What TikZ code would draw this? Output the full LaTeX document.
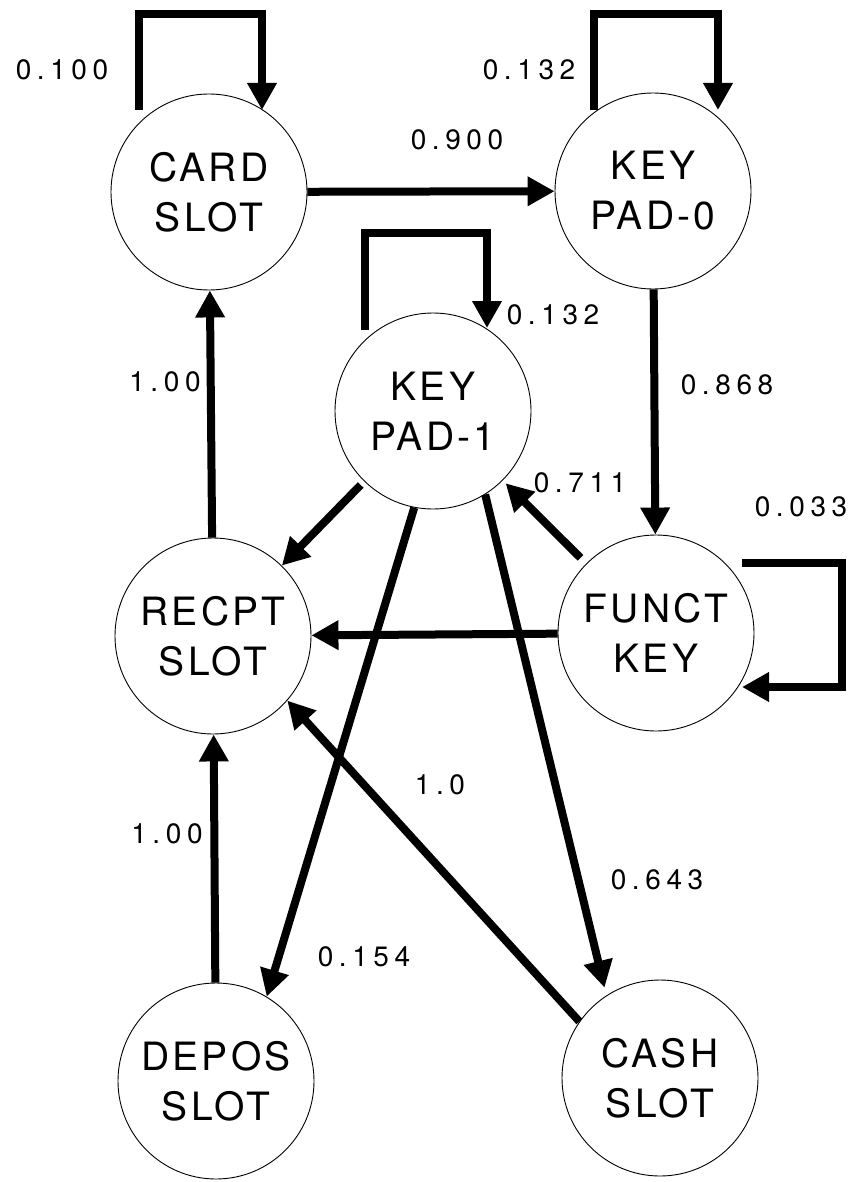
\documentclass[tikz,border=0pt]{standalone}
\usepackage{fontspec}
\setmainfont{TeX Gyre Heros}
\newfontfamily\labfont[LetterSpace=20]{TeX Gyre Heros}
\newfontfamily\statefont[LetterSpace=8]{TeX Gyre Heros}
\usetikzlibrary{arrows.meta}
\begin{document}
\begin{tikzpicture}[x=1pt,y=-1pt,
  state/.style={circle, draw, line width=0.9pt, minimum size=196pt, inner sep=0pt,
    align=center, font=\statefont\fontsize{39}{50}\selectfont},
  arr/.style={line width=8pt, -{Triangle[length=27pt,width=28pt]}, line join=miter},
  lab/.style={font=\labfont\fontsize{28}{30}\selectfont, inner sep=0pt}]
\useasboundingbox (0,0) rectangle (858,1182);

\node[state] (card)  at (209,192)  {CARD\\SLOT};
\node[state] (kp0)   at (653,191)  {KEY\\PAD-0};
\node[state] (kp1)   at (433,411)  {KEY\\PAD-1};
\node[state] (recpt) at (213,636)  {RECPT\\SLOT};
\node[state] (funct) at (656,633)  {FUNCT\\KEY};
\node[state] (depos) at (216,1081) {DEPOS\\SLOT};
\node[state] (cash)  at (660,1078) {CASH\\SLOT};

% self loops
\draw[arr] ([shift={(-70,-82)}]card.center) -- ++(0,-96) -| ([shift={(53,-82)}]card.center);
\draw[arr] ([shift={(-59,-81)}]kp0.center) -- ++(0,-96) -| ([shift={(65,-81)}]kp0.center);
\draw[arr] ([shift={(-68,-81)}]kp1.center) -- ++(0,-97) -| ([shift={(54,-83)}]kp1.center);
\draw[arr] ([shift={(86,-70)}]funct.center) -- ++(100,0) |- ([shift={(86,54)}]funct.center);

% transitions
\draw[arr] (card) -- (kp0);
\draw[arr] (kp0) -- (funct);
\draw[arr] (recpt) -- (card);
\draw[arr] (depos) -- (recpt);
\draw[arr] (funct) -- (recpt);
\draw[arr, shorten <=5pt] (kp1) -- (recpt);
\draw[arr, shorten <=8pt, shorten >=4pt] (funct) -- (kp1);
\draw[arr] (kp1.259) -- (depos.59);
\draw[arr, shorten >=8pt] (kp1.302) -- (cash.123);
\draw[arr] (cash.145) -- (recpt.319);

% labels
\node[lab] (l1)  at (62,70)   {0.100};
\node[lab] (l2)  at (529,70)  {0.132};
\node[lab] (l3)  at (457,140) {0.900};
\node[lab] (l4)  at (553,315) {0.132};
\node[lab] (l5)  at (727,385) {0.868};
\node[lab] (l6)  at (165,382) {1.00};
\node[lab] (l7)  at (580,483) {0.711};
\node[lab] (l8)  at (801,507) {0.033};
\node[lab] (l9)  at (440,785) {1.0};
\node[lab] (l10) at (167,834) {1.00};
\node[lab] (l11) at (657,880) {0.643};
\node[lab] (l12) at (364,957) {0.154};
\end{tikzpicture}
\end{document}
